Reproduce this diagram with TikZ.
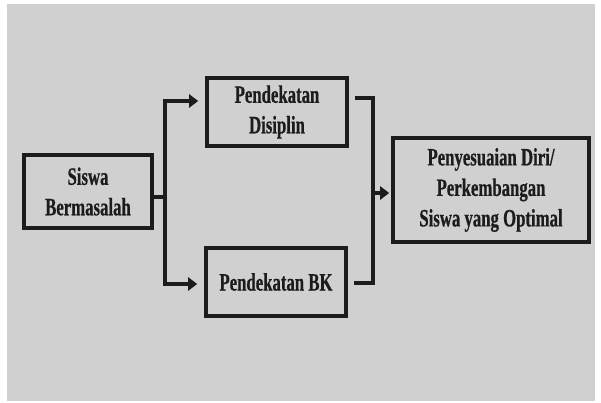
\documentclass[tikz,border=0pt]{standalone}
\usepackage{fontspec}
\setmainfont{Liberation Serif}[FakeStretch=0.67, BoldFeatures={FakeBold=0.6}]
\usetikzlibrary{arrows.meta,calc}
\definecolor{bg}{HTML}{D0D0D0}
\definecolor{ink}{HTML}{1C1C1C}
\tikzset{
  boxnode/.style={draw=ink, line width=3.6pt, fill=bg, align=center, inner sep=0pt,
    font=\bfseries\fontsize{25}{30.5}\selectfont, text=ink},
  linkline/.style={draw=ink, line width=3.2pt},
  linkarrow/.style={linkline, -{Triangle[length=9pt,width=13pt]}}
}
\begin{document}
\begin{tikzpicture}[x=1pt,y=-1pt]
\useasboundingbox (0,0) rectangle (601,403);
\fill[white] (0,0) rectangle (601,403);
\fill[bg] (7,4) rectangle (595,401);

\node[boxnode, minimum width=128pt, minimum height=73pt] (siswa) at (88,191.5) {Siswa\\Bermasalah};
\node[boxnode, minimum width=140pt, minimum height=68pt] (disiplin) at (277,112) {Pendekatan\\Disiplin};
\node[boxnode, minimum width=140pt, minimum height=68pt] (bk) at (276,282) {Pendekatan BK};
\node[boxnode, minimum width=196pt, minimum height=104pt] (out) at (491,190) {Penyesuaian Diri/\\Perkembangan\\Siswa yang Optimal};

\coordinate (jl) at (165,197);
\coordinate (jr) at (373,193);

\draw[linkline] ([yshift=-5.5pt]siswa.east) -- (jl);
\draw[linkarrow] ([yshift=-1.6pt]jl) |- ([xshift=-7pt,yshift=11pt]disiplin.west);
\draw[linkarrow] ([yshift=1.6pt]jl) |- ([xshift=-7pt,yshift=-2pt]bk.west);
\draw[linkline] ([xshift=6pt,yshift=14pt]disiplin.east) -| ([yshift=-1.6pt]jr);
\draw[linkline] ([xshift=6pt,yshift=-1pt]bk.east) -| ([yshift=1.6pt]jr);
\draw[linkarrow] (jr) -- ($(out.west|-jr)+(-2,0)$);
\end{tikzpicture}
\end{document}
